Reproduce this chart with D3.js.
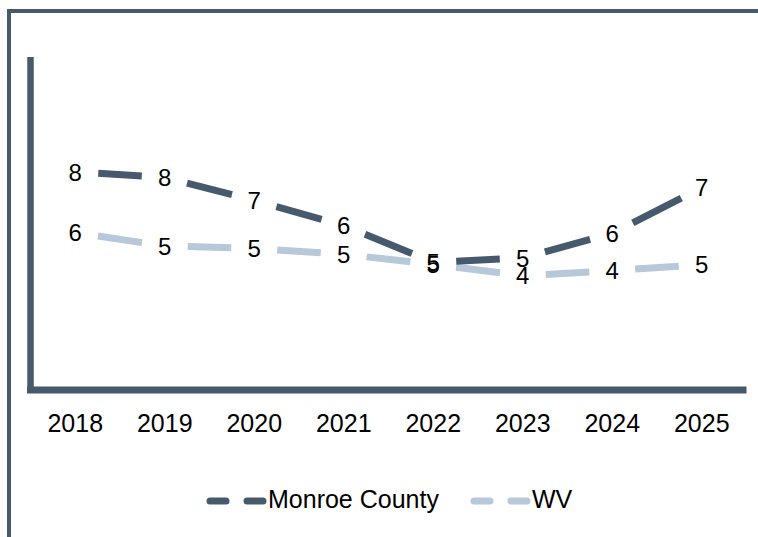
<!DOCTYPE html>
<html>
<head>
<meta charset="utf-8">
<script src="https://cdn.jsdelivr.net/npm/d3@7"></script>
<style>
  html, body { margin: 0; padding: 0; background: #fff; }
  svg { display: block; }
  text { font-family: "Liberation Sans", Arial, sans-serif; fill: #000; }
</style>
</head>
<body>
<svg id="chart" width="758" height="537"></svg>
<script>
const categories = ["2018", "2019", "2020", "2021", "2022", "2023", "2024", "2025"];
const monroeValues = [7.86, 7.66, 6.83, 5.93, 4.6, 4.76, 5.65, 7.29];
const wvValues = [5.67, 5.19, 5.1, 4.89, 4.53, 4.12, 4.30, 4.52];
const seriesNames = ["Monroe County", "WV"];
const yDomain = [0, 12];

const darkColor = "#475A6D";
const lightColor = "#B6C8DA";

const svg = d3.select("#chart");
const W = 758, H = 537;

// outer frame (top and left edges)
svg.append("line").attr("x1", 7).attr("x2", W).attr("y1", 11).attr("y2", 11)
  .attr("stroke", darkColor).attr("stroke-width", 4);
svg.append("line").attr("x1", 9).attr("x2", 9).attr("y1", 9).attr("y2", H)
  .attr("stroke", darkColor).attr("stroke-width", 4);

const plot = { left: 30.5, right: 746.5, top: 57, bottom: 390 };

const x = d3.scaleBand().domain(categories).range([plot.left, plot.right]);
const y = d3.scaleLinear().domain(yDomain).range([plot.bottom, plot.top]);

// axes
const xAxis = d3.axisBottom(x).tickSize(0).tickPadding(0);
const gx = svg.append("g").attr("transform", `translate(0,${plot.bottom})`).call(xAxis);
gx.select(".domain").attr("stroke", darkColor).attr("stroke-width", 7)
  .attr("d", `M${plot.left - 3.5},0H${plot.right}`);
gx.selectAll(".tick text")
  .attr("y", 42).attr("dy", 0)
  .style("font-family", '"Liberation Sans", Arial, sans-serif')
  .style("font-size", "25px").attr("fill", "#000");

const yAxis = d3.axisLeft(y).tickSize(0).tickValues([]);
const gy = svg.append("g").attr("transform", `translate(${plot.left},0)`).call(yAxis);
gy.select(".domain").attr("stroke", darkColor).attr("stroke-width", 6.5)
  .attr("d", `M0,${plot.top}V${plot.bottom}`);

const series = [
  { name: seriesNames[0], values: monroeValues, color: darkColor },
  { name: seriesNames[1], values: wvValues, color: lightColor }
];

const GAP = 23;
function segmentsOf(vals) {
  const segs = [];
  for (let i = 0; i < vals.length - 1; i++) {
    const x1 = x(categories[i]) + x.bandwidth() / 2, y1 = y(vals[i]);
    const x2 = x(categories[i + 1]) + x.bandwidth() / 2, y2 = y(vals[i + 1]);
    const len = Math.hypot(x2 - x1, y2 - y1);
    const ux = (x2 - x1) / len, uy = (y2 - y1) / len;
    segs.push({ x1: x1 + ux * GAP, y1: y1 + uy * GAP, x2: x2 - ux * GAP, y2: y2 - uy * GAP });
  }
  return segs;
}

// draw WV first (below), then Monroe
[series[1], series[0]].forEach(s => {
  svg.append("g").selectAll("line").data(segmentsOf(s.values)).join("line")
    .attr("x1", d => d.x1).attr("y1", d => d.y1)
    .attr("x2", d => d.x2).attr("y2", d => d.y2)
    .attr("stroke", s.color).attr("stroke-width", 7).attr("stroke-linecap", "butt");
});

// data labels
series.forEach(s => {
  svg.append("g").selectAll("text").data(s.values).join("text")
    .attr("x", (d, i) => x(categories[i]) + x.bandwidth() / 2)
    .attr("y", d => y(d))
    .attr("dy", "0.36em")
    .attr("text-anchor", "middle")
    .style("font-size", "24px")
    .text(d => Math.round(d));
});

// legend
const legendItems = [
  { name: seriesNames[0], color: darkColor, x0: 210 },
  { name: seriesNames[1], color: lightColor, x0: 474 }
];
const lg = svg.append("g");
legendItems.forEach(it => {
  lg.append("line").attr("x1", it.x0).attr("x2", it.x0 + 53)
    .attr("y1", 501).attr("y2", 501)
    .attr("stroke", it.color).attr("stroke-width", 7)
    .attr("stroke-linecap", "round").attr("stroke-dasharray", "16,21");
  lg.append("text").attr("x", it.x0 + 58).attr("y", 508)
    .style("font-size", "25px").text(it.name);
});
</script>
</body>
</html>
